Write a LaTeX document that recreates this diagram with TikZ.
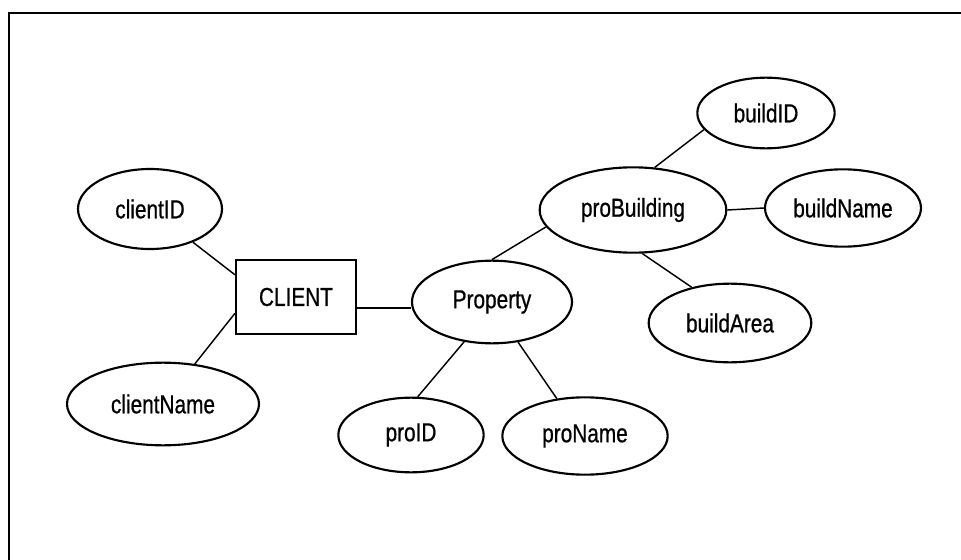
\documentclass[tikz,border=0pt]{standalone}
\usepackage{fontspec}
\setmainfont{Liberation Sans}[FakeStretch=0.8,FakeBold=0.7]
\usetikzlibrary{shapes.geometric}

\tikzset{
  attr/.style={ellipse,draw,line width=1.6pt,inner sep=0pt},
  entity/.style={rectangle,draw,line width=1.6pt,inner sep=0pt},
  link/.style={line width=1.1pt},
  frame/.style={line width=2pt}
}

\begin{document}
\begin{tikzpicture}[x=0.75pt,y=-0.75pt,font=\fontsize{19.5}{22}\selectfont]
  \useasboundingbox (0,0) rectangle (961,560);
  % outer frame
  \draw[frame] (9,560) -- (9,13) -- (961,13);

  % entity and its attributes
  \node[entity,minimum width=90pt,minimum height=55pt] (client) at (296,297) {CLIENT};
  \node[attr,minimum width=108pt,minimum height=60pt] (clientID) at (150,209) {clientID};
  \node[attr,minimum width=144pt,minimum height=62pt] (clientName) at (163,404) {clientName};

  \node[attr,minimum width=120pt,minimum height=62pt] (property) at (492,302) {Property};
  \node[attr,minimum width=109pt,minimum height=56pt] (proID) at (411,435) {proID};
  \node[attr,minimum width=124pt,minimum height=58pt] (proName) at (585,436) {proName};

  \node[attr,minimum width=140pt,minimum height=64pt] (proBuilding) at (633,210) {proBuilding};
  \node[attr,minimum width=103pt,minimum height=53pt] (buildID) at (766,113) {buildID};
  \node[attr,minimum width=117pt,minimum height=58pt] (buildName) at (843,208) {buildName};
  \node[attr,minimum width=122pt,minimum height=59pt] (buildArea) at (730,323) {buildArea};

  % connectors
  \draw[link] (clientID) -- (client.160);
  \draw[link] (clientName) -- (client.195);
  \draw[link] (client.-10) -- (client.-10 -| property.west);
  \draw[link] (property.235) -- (proID.80);
  \draw[link] (property.-57) -- (proName.127);
  \draw[link] (property.north) -- (proBuilding.191);
  \draw[link] (proBuilding.63) -- (buildID.195);
  \draw[link] (proBuilding.east) -- (buildName.west);
  \draw[link] (proBuilding.-78) -- (buildArea.137);
\end{tikzpicture}
\end{document}
